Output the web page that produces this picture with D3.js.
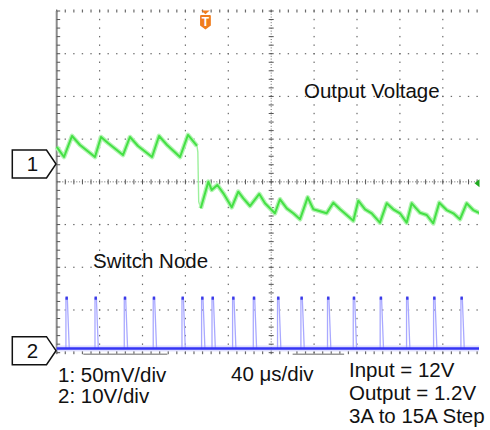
<!DOCTYPE html>
<html>
<head>
<meta charset="utf-8">
<script src="https://cdn.jsdelivr.net/npm/d3@7/dist/d3.min.js"></script>
<style>
  html, body { margin: 0; padding: 0; background: #fff; }
  svg { display: block; }
  text { font-family: "Liberation Sans", Arial, Helvetica, sans-serif; fill: #111; }
</style>
</head>
<body>
<svg id="chart" width="490" height="430"></svg>
<script>
// ---------------- data ----------------
// Channel 1 (output voltage), time in µs, deviation in mV from channel-1 marker level
const ch1Time = [0, 6.8, 14.3, 21.7, 35.7, 41.3, 47.8, 61.8, 68.3, 75.8, 88.9, 95.4, 102.9, 115.0, 122.4, 130.8];
const ch1Volt = [20, 8.2, 32.8, 22.2, 8.2, 31.6, 24.6, 10.5, 31.6, 21.1, 8.2, 32.8, 22.2, 8.2, 34.0, 21.1];
// after the load step
const ch1TimeStep = [134.3, 141.4, 144.5, 149.8, 155.4, 163.2, 169.3, 174.0, 180.2, 188.9, 194.2, 203.5, 208.2, 214.5, 220.6, 226.9, 234.0, 239.3, 251.7, 257.9, 264.2, 276.6, 281.2, 287.5, 293.7, 301.4, 307.7, 313.8, 320.1, 326.3, 331.0, 338.7, 345.0, 351.1, 356.7, 363.6, 369.8, 376.0, 382.2, 388.4, 394.7];
const ch1VoltStep = [-51.9, -20.7, -30.4, -24.6, -34.3, -50.7, -32.4, -40.2, -49.2, -35.1, -46.0, -57.7, -41.3, -51.9, -57.7, -64.7, -39.0, -53.0, -57.7, -45.3, -53.0, -66.4, -43.0, -53.0, -57.7, -68.7, -46.0, -53.0, -57.7, -68.7, -46.0, -57.0, -59.7, -69.4, -45.3, -53.9, -57.7, -64.7, -46.0, -53.9, -57.7];
// Channel 2 (switch node): pulse times in µs, levels in V
const ch2PulseTimes = [9.3, 36.4, 63.7, 90.7, 117.5, 135.8, 145.5, 164.7, 184.0, 206.6, 228.4, 253.2, 277.2, 302.3, 326.9, 352.1, 377.6];
const ch2High = 12.2;
const ch2Low = 0.4;
// scope settings
const ch1Scale = 50;   // mV/div
const ch2Scale = 10;   // V/div
const ch1Offset = 0.418; // div
const ch2Offset = -3.94; // div
const triggerTime = 138.7; // µs
const timeSpan = [0, 400]; // µs (40 µs/div)
const labelsLeft = ["1: 50mV/div", "2: 10V/div"];
const labelTime = "40 \u03bcs/div";
const labelsRight = ["Input = 12V", "Output = 1.2V", "3A to 15A Step"];

// ---------------- layout ----------------
const svg = d3.select("#chart");
const X0 = 56.7, X1 = 485.7, Y0 = 11, Y1 = 352.7, CLIPX = 479;
const x = d3.scaleLinear().domain(timeSpan).range([X0, X1]);
const xd = d3.scaleLinear().domain([0, 10]).range([X0, X1]);
const yd = d3.scaleLinear().domain([-4, 4]).range([Y1, Y0]);
const y1 = v => yd(ch1Offset + v / ch1Scale);
const y2 = v => yd(ch2Offset + v / ch2Scale);

svg.append("defs").append("clipPath").attr("id", "scr")
  .append("rect").attr("x", X0 - 2).attr("y", 0).attr("width", CLIPX - X0 + 2).attr("height", 362);

const grid = svg.append("g").attr("clip-path", "url(#scr)");
const minorX = d3.range(0, 50.001, 1).map(i => i / 5);
const minorY = d3.range(-20, 20.001, 1).map(i => i / 5);
const gridCol = "#6a6a6a";

// dotted major grid lines
[1, 2, 3, 4, 6, 7, 8, 9].forEach(k => {
  grid.selectAll(null).data(minorY).enter().append("rect")
    .attr("x", xd(k) - 0.6).attr("y", d => yd(d) - 0.7)
    .attr("width", 1.2).attr("height", 1.4).attr("fill", gridCol);
});
[-3, -2, -1, 1, 2, 3].forEach(k => {
  grid.selectAll(null).data(minorX).enter().append("rect")
    .attr("x", d => xd(d) - 0.7).attr("y", yd(k) - 0.6)
    .attr("width", 1.4).attr("height", 1.2).attr("fill", gridCol);
});
// top / bottom border ticks
[4, -4].forEach(k => {
  grid.selectAll(null).data(minorX).enter().append("rect")
    .attr("x", d => xd(d) - 0.6).attr("y", yd(k) - 1.5)
    .attr("width", 1.2).attr("height", 3).attr("fill", gridCol);
});
// center cross
grid.append("line").attr("x1", X0).attr("x2", X1).attr("y1", yd(0)).attr("y2", yd(0))
  .attr("stroke", gridCol).attr("stroke-width", 1).attr("stroke-dasharray", "1,1.8");
grid.append("line").attr("x1", xd(5)).attr("x2", xd(5)).attr("y1", Y0).attr("y2", Y1)
  .attr("stroke", gridCol).attr("stroke-width", 1).attr("stroke-dasharray", "1,1.8");
grid.selectAll(null).data(minorX).enter().append("line")
  .attr("x1", d => xd(d)).attr("x2", d => xd(d))
  .attr("y1", yd(0) - 2.5).attr("y2", yd(0) + 2.5)
  .attr("stroke", "#555").attr("stroke-width", 1);
grid.selectAll(null).data(minorY).enter().append("line")
  .attr("x1", xd(5) - 2.5).attr("x2", xd(5) + 2.5)
  .attr("y1", d => yd(d)).attr("y2", d => yd(d))
  .attr("stroke", "#555").attr("stroke-width", 1);
// left border
grid.append("line").attr("x1", X0).attr("x2", X0).attr("y1", Y0).attr("y2", Y1 + 1)
  .attr("stroke", "#8a8a8a").attr("stroke-width", 2);
grid.selectAll(null).data(minorY).enter().append("line")
  .attr("x1", X0).attr("x2", X0 + 3.5)
  .attr("y1", d => yd(d)).attr("y2", d => yd(d))
  .attr("stroke", "#555").attr("stroke-width", 1);
// bottom gray bars
[[0.62, 2.58], [5.5, 6.7]].forEach(s => {
  grid.append("line").attr("x1", xd(s[0])).attr("x2", xd(s[1]))
    .attr("y1", Y1 + 1.5).attr("y2", Y1 + 1.5)
    .attr("stroke", "#9a9a9a").attr("stroke-width", 1.6);
});

// ---------------- channel 2 (switch node) ----------------
const traces = svg.append("g").attr("clip-path", "url(#scr)");
traces.append("rect").attr("x", X0).attr("y", y2(ch2Low) - 3).attr("width", X1 - X0).attr("height", 6)
  .attr("fill", "#c9c9ff").attr("opacity", 0.6);
const pulseLine = d3.line();
ch2PulseTimes.forEach(t => {
  const pts = [[x(t - 0.7), y2(ch2Low)], [x(t - 0.7), y2(ch2High)], [x(t + 0.6), y2(ch2High)], [x(t + 2.4), y2(ch2Low)]];
  traces.append("path").attr("d", pulseLine(pts)).attr("fill", "none")
    .attr("stroke", "#a9a9ff").attr("stroke-width", 1.3);
});
traces.append("line").attr("x1", X0).attr("x2", X1).attr("y1", y2(ch2Low)).attr("y2", y2(ch2Low))
  .attr("stroke", "#3535f5").attr("stroke-width", 2.4);
traces.selectAll(null).data(ch2PulseTimes).enter().append("rect")
  .attr("x", d => x(d) - 1.2).attr("y", y2(ch2High) - 1.5)
  .attr("width", 2.4).attr("height", 3.2).attr("fill", "#3a3ae8");

// ---------------- channel 1 (output voltage) ----------------
const pre = ch1Time.map((t, i) => [x(t), y1(ch1Volt[i])]);
const post = ch1TimeStep.map((t, i) => [x(t), y1(ch1VoltStep[i])]);
const ln = d3.line();
// step edge (faint)
traces.append("path").attr("d", ln([pre[pre.length - 1], [x(131.6), y1(14)], [x(132.4), y1(-44)], post[0]]))
  .attr("fill", "none").attr("stroke", "#9cf09c").attr("stroke-width", 1.4);
[pre, post].forEach(p => {
  traces.append("path").attr("d", ln(p)).attr("fill", "none")
    .attr("stroke", "#b2f4b2").attr("stroke-width", 4.6).attr("stroke-linejoin", "round");
  traces.append("path").attr("d", ln(p)).attr("fill", "none")
    .attr("stroke", "#45e045").attr("stroke-width", 2).attr("stroke-linejoin", "round");
});

// ---------------- markers ----------------
function chMarker(yTip, label) {
  const h = 14;
  const pts = [[12.3, yTip - h], [46.5, yTip - h], [56, yTip], [46.5, yTip + h], [12.3, yTip + h]];
  svg.append("path").attr("d", d3.line()(pts) + "Z")
    .attr("fill", "#fff").attr("stroke", "#111").attr("stroke-width", 1.5).attr("stroke-linejoin", "miter");
  svg.append("text").attr("x", 32.5).attr("y", yTip + 7.5).attr("text-anchor", "middle")
    .attr("font-size", 20.5).text(label);
}
chMarker(y1(0), "1");
chMarker(y2(0) + 0.5, "2");

// right ch1 offset arrow
const ry = y1(-22.5);
svg.append("path").attr("d", d3.line()([[474.5, ry], [479.5, ry - 4], [479.5, ry + 4]]) + "Z")
  .attr("fill", "#1faa1f");

// trigger marker
const tx = x(triggerTime);
svg.append("path").attr("d", d3.line()([[tx - 4.3, 10.5], [tx + 4.3, 10.5], [tx, 14.3]]) + "Z")
  .attr("fill", "#f07d1e");
svg.append("path")
  .attr("d", `M${tx - 5.4},16 Q${tx - 5.4},15 ${tx - 4.4},15 H${tx + 4.4} Q${tx + 5.4},15 ${tx + 5.4},16 V25.5 L${tx},29.6 L${tx - 5.4},25.5 Z`)
  .attr("fill", "#f07d1e");
svg.append("text").attr("x", tx).attr("y", 25.8).attr("text-anchor", "middle")
  .attr("font-size", 12).attr("font-weight", "bold").style("fill", "#fff").text("T");

// ---------------- texts ----------------
svg.append("text").attr("x", 304).attr("y", 98.3).attr("font-size", 20.5).text("Output Voltage");
svg.append("text").attr("x", 93).attr("y", 268.3).attr("font-size", 20.5).text("Switch Node");
labelsLeft.forEach((s, i) => {
  svg.append("text").attr("x", 58).attr("y", 381.7 + i * 21.6).attr("font-size", 20.5).text(s);
});
svg.append("text").attr("x", 231).attr("y", 381.3).attr("font-size", 20.5).text(labelTime);
labelsRight.forEach((s, i) => {
  svg.append("text").attr("x", 349).attr("y", 376.7 + i * 23).attr("font-size", 20.5).text(s);
});
</script>
</body>
</html>
